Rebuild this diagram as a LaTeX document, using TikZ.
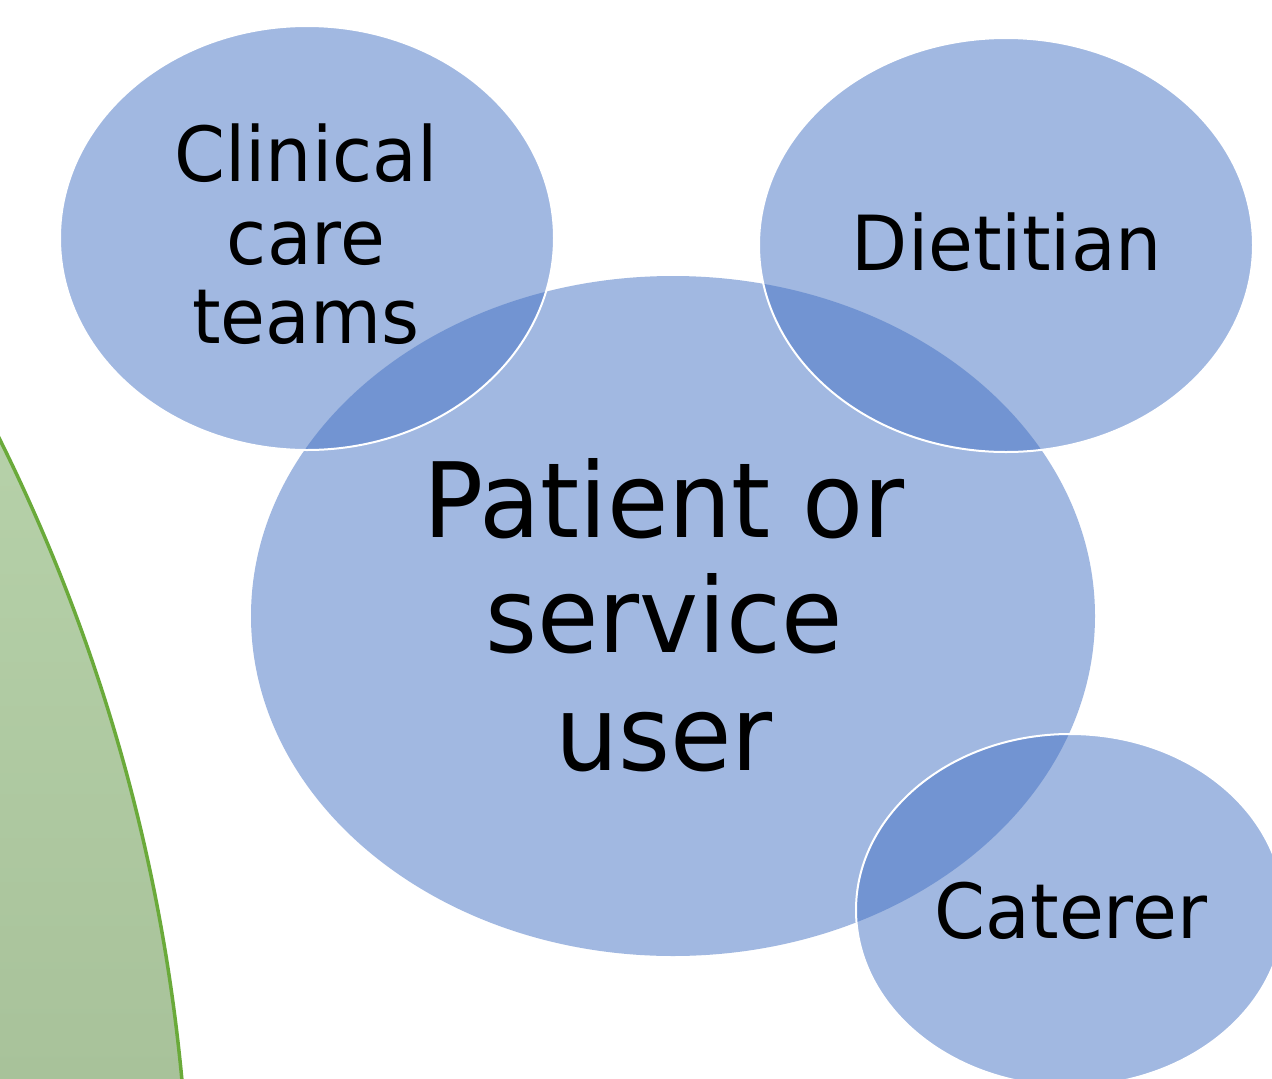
\documentclass[tikz,border=0pt]{standalone}
\usepackage{fontspec}
\setmainfont[FakeStretch=0.96]{DejaVu Sans}
\definecolor{bubble}{HTML}{4472C4}
\definecolor{leafline}{HTML}{6AAA3A}
\definecolor{leaftop}{HTML}{B6D1A9}
\definecolor{leafbot}{HTML}{A8C29A}
\tikzset{
  bigbubble/.style={fill=bubble, fill opacity=0.5},
  smallbubble/.style={fill=bubble, fill opacity=0.5, draw=white, draw opacity=1, line width=2pt},
  bigtext/.style={anchor=base, inner sep=0pt, font=\fontsize{104}{116}\selectfont},
  smalltext/.style={anchor=base, inner sep=0pt, font=\fontsize{76}{81}\selectfont}
}
\begin{document}
\begin{tikzpicture}[x=1pt, y=-1pt]
  \useasboundingbox (0,0) rectangle (1272,1079);
  \clip (0,0) rectangle (1272,1079);
  \fill[white] (0,0) rectangle (1272,1079);

  % green arc-shaped panel at the left edge
  \begin{scope}
    \clip (-1641,1253) circle[radius=1831pt];
    \shade[top color=leaftop, bottom color=leafbot] (0,420) rectangle (200,1079);
  \end{scope}
  \draw[leafline, line width=3.5pt] (-1641,1253) circle[radius=1831pt];

  % central bubble
  \path[bigbubble] (673,616) ellipse[x radius=422pt, y radius=340pt];
  % surrounding bubbles
  \path[smallbubble] (307,238) ellipse[x radius=247pt, y radius=212pt];
  \path[smallbubble] (1006,245) ellipse[x radius=247pt, y radius=207pt];
  \path[smallbubble] (1070,910) ellipse[x radius=214pt, y radius=176pt];

  % labels
  \node[bigtext] (pat1) at (664,537) {Patient or};
  \node[bigtext] (pat2) at (664,652) {service};
  \node[bigtext] (pat3) at (664,770) {user};

  \node[smalltext] (clin1) at (306,181) {Clinical};
  \node[smalltext] (clin2) at (306,264) {care};
  \node[smalltext] (clin3) at (306,343) {teams};

  \node[smalltext] (diet) at (1007,270) {Dietitian};
  \node[smalltext] (cater) at (1071,938) {Caterer};
\end{tikzpicture}
\end{document}
